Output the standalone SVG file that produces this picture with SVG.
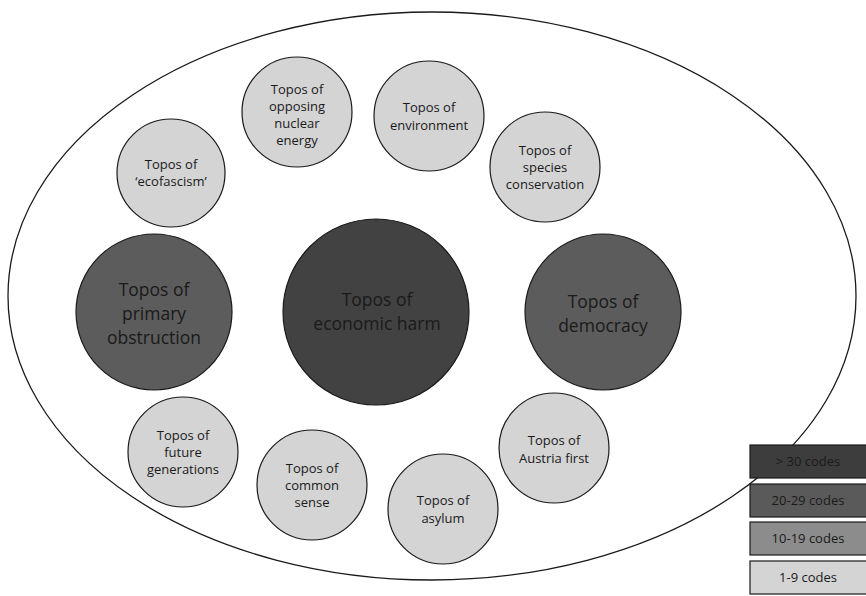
<svg xmlns="http://www.w3.org/2000/svg" width="866" height="596" viewBox="0 0 866 596">
<style>
.c{stroke:#1a1a1a;stroke-width:1.2}
.s{fill:#d4d4d4}
.m{fill:#5c5c5c}
.d{fill:#424242}
text{font-family:"Open Sans","DejaVu Sans",sans-serif;fill:#1a1a1a;text-anchor:middle}
.t{font-size:13px}
.L{font-size:17.5px}
.g{font-size:13px}
</style>
<rect width="866" height="596" fill="#fff"/>
<ellipse cx="432" cy="296" rx="424" ry="284" fill="#fff" stroke="#1a1a1a" stroke-width="1.3"/>
<g id="economic-harm"><circle class="c d" cx="376" cy="312" r="93"/><text class="L" x="377" y="306">Topos of</text><text class="L" x="377" y="330">economic harm</text></g>
<g id="primary-obstruction"><circle class="c m" cx="154" cy="312" r="78"/><text class="L" x="154" y="296">Topos of</text><text class="L" x="154" y="320">primary</text><text class="L" x="154" y="344">obstruction</text></g>
<g id="democracy"><circle class="c m" cx="603" cy="312" r="78"/><text class="L" x="603" y="308">Topos of</text><text class="L" x="603" y="332">democracy</text></g>
<g id="nuclear"><circle class="c s" cx="297" cy="112" r="55"/><text class="t" x="297" y="94">Topos of</text><text class="t" x="297" y="111">opposing</text><text class="t" x="297" y="128">nuclear</text><text class="t" x="297" y="145">energy</text></g>
<g id="environment"><circle class="c s" cx="429" cy="116" r="55"/><text class="t" x="429" y="112">Topos of</text><text class="t" x="429" y="130">environment</text></g>
<g id="species"><circle class="c s" cx="545" cy="167" r="55"/><text class="t" x="545" y="155">Topos of</text><text class="t" x="545" y="172">species</text><text class="t" x="545" y="189">conservation</text></g>
<g id="ecofascism"><circle class="c s" cx="171" cy="173" r="54"/><text class="t" x="171" y="169">Topos of</text><text class="t" x="171" y="186">‘ecofascism’</text></g>
<g id="future"><circle class="c s" cx="183" cy="452" r="55"/><text class="t" x="183" y="440">Topos of</text><text class="t" x="183" y="457">future</text><text class="t" x="183" y="474">generations</text></g>
<g id="common-sense"><circle class="c s" cx="312" cy="485" r="55"/><text class="t" x="312" y="473">Topos of</text><text class="t" x="312" y="490">common</text><text class="t" x="312" y="507">sense</text></g>
<g id="asylum"><circle class="c s" cx="443" cy="509" r="55"/><text class="t" x="443" y="505">Topos of</text><text class="t" x="443" y="523">asylum</text></g>
<g id="austria"><circle class="c s" cx="554" cy="448" r="55"/><text class="t" x="554" y="445">Topos of</text><text class="t" x="554" y="463">Austria first</text></g>
<g id="legend">
<rect class="c" x="750" y="445" width="118" height="33" fill="#3d3d3d"/><text class="g" x="808" y="466">&gt; 30 codes</text>
<rect class="c" x="750" y="484" width="118" height="33" fill="#5a5a5a"/><text class="g" x="808" y="505">20-29 codes</text>
<rect class="c" x="750" y="522" width="118" height="33" fill="#8c8c8c"/><text class="g" x="808" y="543">10-19 codes</text>
<rect class="c" x="750" y="561" width="118" height="33" fill="#d4d4d4"/><text class="g" x="808" y="582">1-9 codes</text>
</g>
<g id="connectors"/>
</svg>
